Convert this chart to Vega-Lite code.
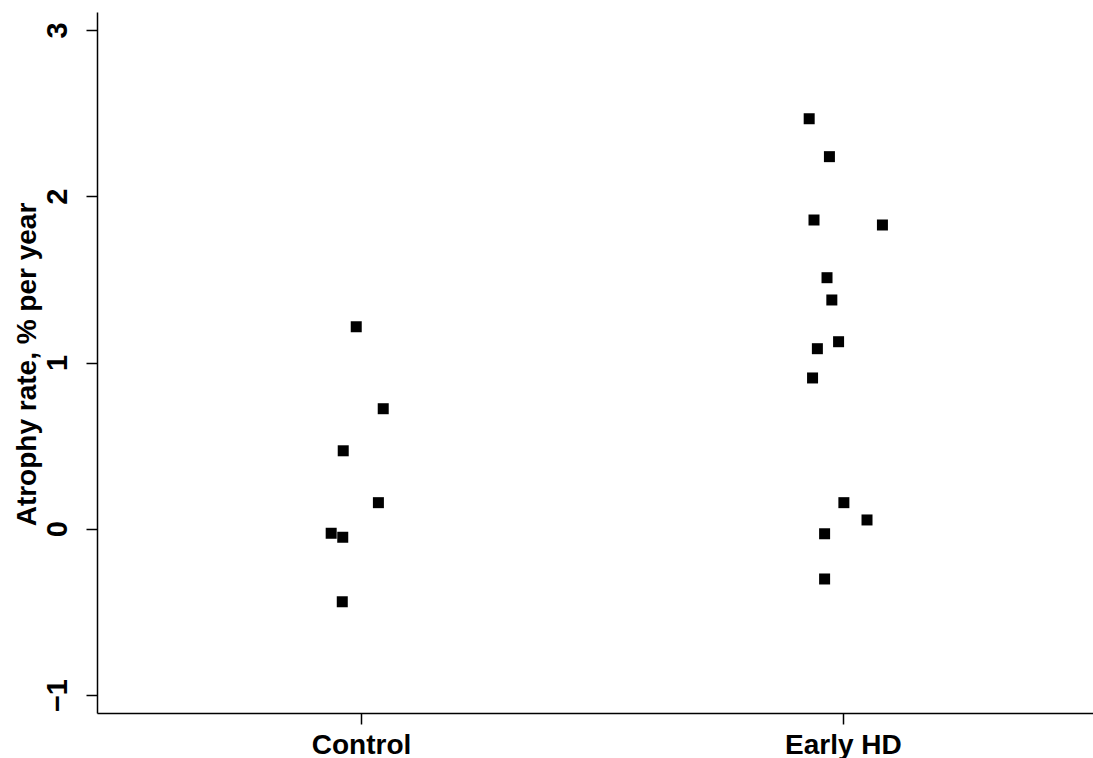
{
  "$schema": "https://vega.github.io/schema/vega-lite/v6.json",
  "width": 996,
  "height": 701,
  "autosize": "none",
  "padding": {"left": 97, "top": 12, "right": 0, "bottom": 45},
  "background": "white",
  "config": {
    "view": {"stroke": null},
    "font": "Liberation Sans"
  },
  "data": {
    "values": [
      {"group": "Control", "pos": 0.990, "rate": 1.215},
      {"group": "Control", "pos": 1.046, "rate": 0.722},
      {"group": "Control", "pos": 0.963, "rate": 0.469},
      {"group": "Control", "pos": 1.036, "rate": 0.157},
      {"group": "Control", "pos": 0.938, "rate": -0.027},
      {"group": "Control", "pos": 0.962, "rate": -0.051},
      {"group": "Control", "pos": 0.961, "rate": -0.439},
      {"group": "Early HD", "pos": 1.930, "rate": 2.466},
      {"group": "Early HD", "pos": 1.972, "rate": 2.238},
      {"group": "Early HD", "pos": 1.940, "rate": 1.857},
      {"group": "Early HD", "pos": 2.082, "rate": 1.827},
      {"group": "Early HD", "pos": 1.967, "rate": 1.510},
      {"group": "Early HD", "pos": 1.977, "rate": 1.376},
      {"group": "Early HD", "pos": 1.991, "rate": 1.125},
      {"group": "Early HD", "pos": 1.947, "rate": 1.083},
      {"group": "Early HD", "pos": 1.937, "rate": 0.907},
      {"group": "Early HD", "pos": 2.002, "rate": 0.157},
      {"group": "Early HD", "pos": 2.050, "rate": 0.053},
      {"group": "Early HD", "pos": 1.962, "rate": -0.030},
      {"group": "Early HD", "pos": 1.962, "rate": -0.302}
    ]
  },
  "mark": {"type": "point", "shape": "square", "filled": true, "size": 121, "color": "black", "opacity": 1},
  "encoding": {
    "x": {
      "field": "pos",
      "type": "quantitative",
      "scale": {"domain": [0.452, 2.519], "nice": false, "zero": false},
      "axis": {
        "title": null,
        "values": [1, 2],
        "labelExpr": "datum.value == 1 ? 'Control' : 'Early HD'",
        "grid": false,
        "domainColor": "black",
        "domainWidth": 1.5,
        "tickColor": "black",
        "tickWidth": 1.5,
        "tickSize": 11,
        "labelPadding": 7,
        "labelBaseline": "top",
        "labelFont": "Liberation Sans",
        "labelFontWeight": "bold",
        "labelFontSize": 28,
        "labelColor": "black",
        "labelFlush": false,
        "labelOverlap": false
      }
    },
    "y": {
      "field": "rate",
      "type": "quantitative",
      "scale": {"domain": [-1.108, 3.108], "nice": false, "zero": false},
      "axis": {
        "title": "Atrophy rate, % per year",
        "values": [-1, 0, 1, 2, 3],
        "grid": false,
        "domainColor": "black",
        "domainWidth": 1.5,
        "tickColor": "black",
        "tickWidth": 1.5,
        "tickSize": 11,
        "labelAngle": -90,
        "labelAlign": "center",
        "labelBaseline": "alphabetic",
        "labelPadding": 20,
        "labelFont": "Liberation Sans",
        "labelFontWeight": "bold",
        "labelFontSize": 29,
        "labelColor": "black",
        "labelFlush": false,
        "labelOverlap": false,
        "labelExpr": "datum.value < 0 ? '\u2212' + abs(datum.value) : datum.label",
        "titleFont": "Liberation Sans",
        "titleFontWeight": "bold",
        "titleFontSize": 28,
        "titleColor": "black",
        "titleAngle": -90,
        "titleBaseline": "alphabetic",
        "titleAlign": "center",
        "titleX": -62,
        "titleY": 352
      }
    }
  }
}
